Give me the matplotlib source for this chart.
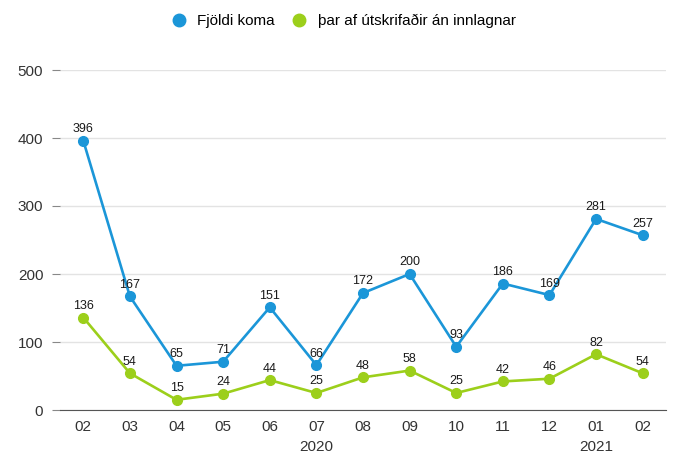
import matplotlib.pyplot as plt
from matplotlib.lines import Line2D

plt.rcParams["font.family"] = ["Liberation Sans", "DejaVu Sans"]

months = ["02", "03", "04", "05", "06", "07", "08", "09", "10", "11", "12", "01", "02"]
years = {"2020": 5, "2021": 11}
fjoldi_koma = [396, 167, 65, 71, 151, 66, 172, 200, 93, 186, 169, 281, 257]
utskrifadir = [136, 54, 15, 24, 44, 25, 48, 58, 25, 42, 46, 82, 54]

BLUE = "#1b96d8"
GREEN = "#9ccf1b"

fig = plt.figure(figsize=(6.79, 4.59), dpi=100)
ax = fig.add_axes([60 / 679, 49 / 459, 606 / 679, 340 / 459])

x = list(range(len(months)))
for values, color in [(fjoldi_koma, BLUE), (utskrifadir, GREEN)]:
    ax.plot(x, values, color=color, linewidth=1.9, marker="o", markersize=7, zorder=3,
            clip_on=False)
    for xi, v in zip(x, values):
        ax.annotate(str(v), (xi, v), xytext=(0, 4), textcoords="offset points",
                    ha="center", va="bottom", fontsize=9, color="#1a1a1a", zorder=4)

ax.set_xlim(-0.5, 12.5)
ax.set_ylim(0, 500)
ax.set_yticks(range(0, 501, 100))
ax.set_xticks(x)
ax.set_xticklabels(months)
ax.grid(axis="y", color="#e3e3e3", linewidth=1)
ax.set_axisbelow(True)
for side in ["top", "right", "left"]:
    ax.spines[side].set_visible(False)
ax.spines["bottom"].set_color("#555555")
ax.tick_params(axis="y", length=6, color="#888888", pad=6, labelsize=11, labelcolor="#333333")
ax.tick_params(axis="x", length=0, pad=7, labelsize=11, labelcolor="#333333")

for label, pos in years.items():
    ax.text(pos, -0.088, label, transform=ax.get_xaxis_transform(), ha="center",
            va="top", fontsize=11, color="#333333")

handles = [
    Line2D([], [], color=BLUE, marker="o", linestyle="none", markersize=9),
    Line2D([], [], color=GREEN, marker="o", linestyle="none", markersize=9),
]
fig.legend(handles, ["Fjöldi koma", "þar af útskrifaðir án innlagnar"], loc="upper center",
           bbox_to_anchor=(0.5, 1.0), ncol=2, frameon=False, fontsize=11,
           handletextpad=0.2, columnspacing=0.6)

fig.savefig("out.png", dpi=100)
